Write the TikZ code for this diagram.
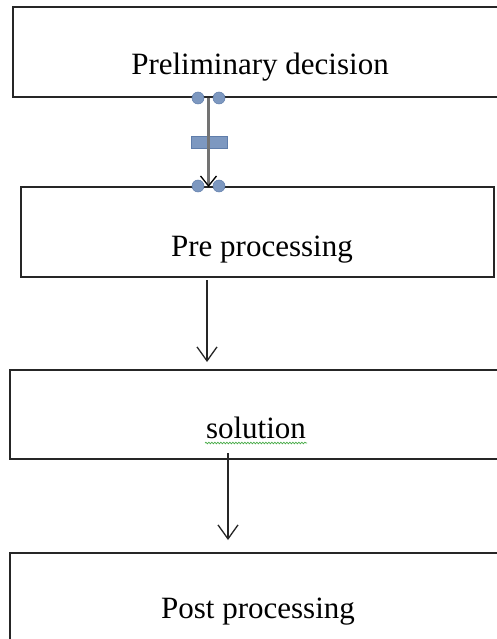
\documentclass[tikz,border=0pt]{standalone}
\usepackage{fontspec}
\setmainfont{Liberation Serif}
\usetikzlibrary{arrows.meta,decorations.pathmorphing}
\definecolor{handlefill}{RGB}{125,152,192}
\definecolor{handledraw}{RGB}{95,125,170}
\definecolor{spellgreen}{RGB}{70,170,70}
\tikzset{
  box/.style={draw=black!85, line width=1.6pt, fill=white, inner sep=0pt},
  lbl/.style={inner sep=0pt, anchor=base, font=\fontsize{31}{35}\selectfont, text=black},
  flow/.style={line width=1.3pt, draw=black!85, -{Straight Barb[length=14pt,width=20pt,line width=1.3pt]}},
  selflow/.style={line width=2.2pt, draw=black!55, -{Straight Barb[length=10pt,width=16pt,line width=1.3pt,color=black]}},
  handle/.style={circle, fill=handlefill, draw=handledraw, line width=0.5pt, minimum size=12pt, inner sep=0pt},
  handlerect/.style={rectangle, fill=handlefill, draw=handledraw, line width=0.5pt, minimum width=36pt, minimum height=12pt, inner sep=0pt}
}
\begin{document}
\begin{tikzpicture}[x=1pt,y=-1pt]
\useasboundingbox (0,0) rectangle (497,639);
\clip (0,0) rectangle (497,639);
\fill[white] (0,0) rectangle (497,639);
% boxes
\node[box, minimum width=502pt, minimum height=90pt] (b1) at (264,52) {};
\node[box, minimum width=473pt, minimum height=90pt] (b2) at (257.5,232) {};
\node[box, minimum width=505pt, minimum height=89pt] (b3) at (262.5,414.5) {};
\node[box, minimum width=505pt, minimum height=110pt] (b4) at (262.5,608) {};
% labels
\node[lbl] (t1) at (260,75) {Preliminary decision};
\node[lbl] (t2) at (262,256) {Pre processing};
\node[lbl] (t3) at (256,438) {solution};
\node[lbl] (t4) at (258,618) {Post processing};
% spell-check underline
\coordinate (u1) at (205,443);
\coordinate (u2) at (307,443);
\draw[spellgreen, line width=0.7pt, decorate, decoration={snake, amplitude=0.8pt, segment length=3pt}] (u1) -- (u2);
% selected connector handles
\node[handle] (h1) at (198,98) {};
\node[handle] (h2) at (219,98) {};
\node[handle] (h3) at (198,186) {};
\node[handle] (h4) at (219,186) {};
\node[handlerect] (hr) at (209,142) {};
% connectors
\coordinate (a1s) at (208.5,98);
\coordinate (a1e) at (208.5,187);
\draw[selflow] (a1s) -- (a1e);
\coordinate (a2s) at (207,280);
\coordinate (a2e) at (207,362);
\draw[flow] (a2s) -- (a2e);
\coordinate (a3s) at (228,453);
\coordinate (a3e) at (228,540);
\draw[flow] (a3s) -- (a3e);
\end{tikzpicture}
\end{document}
